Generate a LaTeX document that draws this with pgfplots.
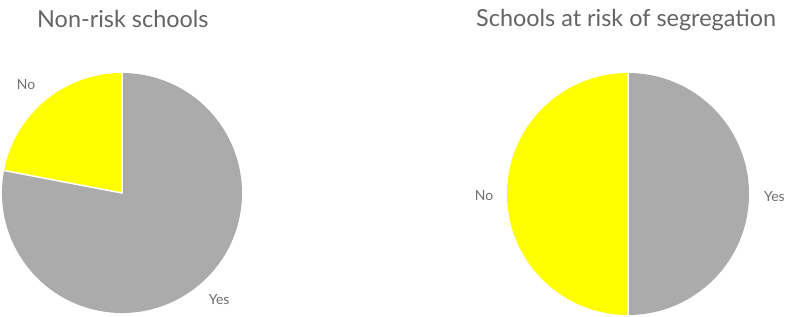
\documentclass[border=0pt]{standalone}
\usepackage{pgfplots}
\pgfplotsset{compat=1.18}
\usepackage{fontspec}
\setmainfont{Lato}
\definecolor{pgray}{RGB}{171,171,171}
\definecolor{pyellow}{RGB}{255,255,0}
\definecolor{tgray}{RGB}{100,100,100}
\definecolor{lgray}{RGB}{110,110,110}
% shares in percent
\def\leftNo{22}
\def\leftYes{78}
\def\rightNo{50}
\def\rightYes{50}
\begin{document}
\begin{tikzpicture}[x=1bp,y=1bp]
\useasboundingbox (0,0) rectangle (787,316);
\node[anchor=base west,font=\fontsize{23.5}{26}\selectfont,text=tgray,inner sep=0] at (37,289) {Non-risk schools};
\node[anchor=base west,font=\fontsize{23.5}{26}\selectfont,text=tgray,inner sep=0] at (476,290) {Schools at risk of segregation};
% left pie
\begin{axis}[at={(122bp,123bp)},anchor=center,scale only axis,width=240bp,height=240bp,
  xmin=-1,xmax=1,ymin=-1,ymax=1,hide axis,clip=false]
  \pgfmathsetmacro{\a}{90+\leftNo*3.6}
  \fill[pyellow] (axis cs:0,0) -- (axis cs:0,1) arc[start angle=90,end angle=\a,radius=1] -- cycle;
  \fill[pgray] (axis cs:0,0) -- (axis cs:{cos(\a)},{sin(\a)}) arc[start angle=\a,end angle=450,radius=1] -- cycle;
  \draw[white,line width=1.5bp] (axis cs:0,1) -- (axis cs:0,0) -- (axis cs:{cos(\a)},{sin(\a)});
  \node[text=lgray,font=\fontsize{14}{16}\selectfont] at (axis cs:-0.8,0.9) {No};
  \node[text=lgray,font=\fontsize{14}{16}\selectfont] at (axis cs:0.81,-0.89) {Yes};
\end{axis}
% right pie
\begin{axis}[at={(628bp,122bp)},anchor=center,scale only axis,width=242bp,height=242bp,
  xmin=-1,xmax=1,ymin=-1,ymax=1,hide axis,clip=false]
  \pgfmathsetmacro{\b}{90+\rightNo*3.6}
  \fill[pyellow] (axis cs:0,0) -- (axis cs:0,1) arc[start angle=90,end angle=\b,radius=1] -- cycle;
  \fill[pgray] (axis cs:0,0) -- (axis cs:{cos(\b)},{sin(\b)}) arc[start angle=\b,end angle=450,radius=1] -- cycle;
  \draw[white,line width=1.5bp] (axis cs:0,1) -- (axis cs:0,0) -- (axis cs:{cos(\b)},{sin(\b)});
  \node[text=lgray,font=\fontsize{14}{16}\selectfont] at (axis cs:-1.19,-0.01) {No};
  \node[text=lgray,font=\fontsize{14}{16}\selectfont] at (axis cs:1.21,-0.02) {Yes};
\end{axis}
\end{tikzpicture}
\end{document}
